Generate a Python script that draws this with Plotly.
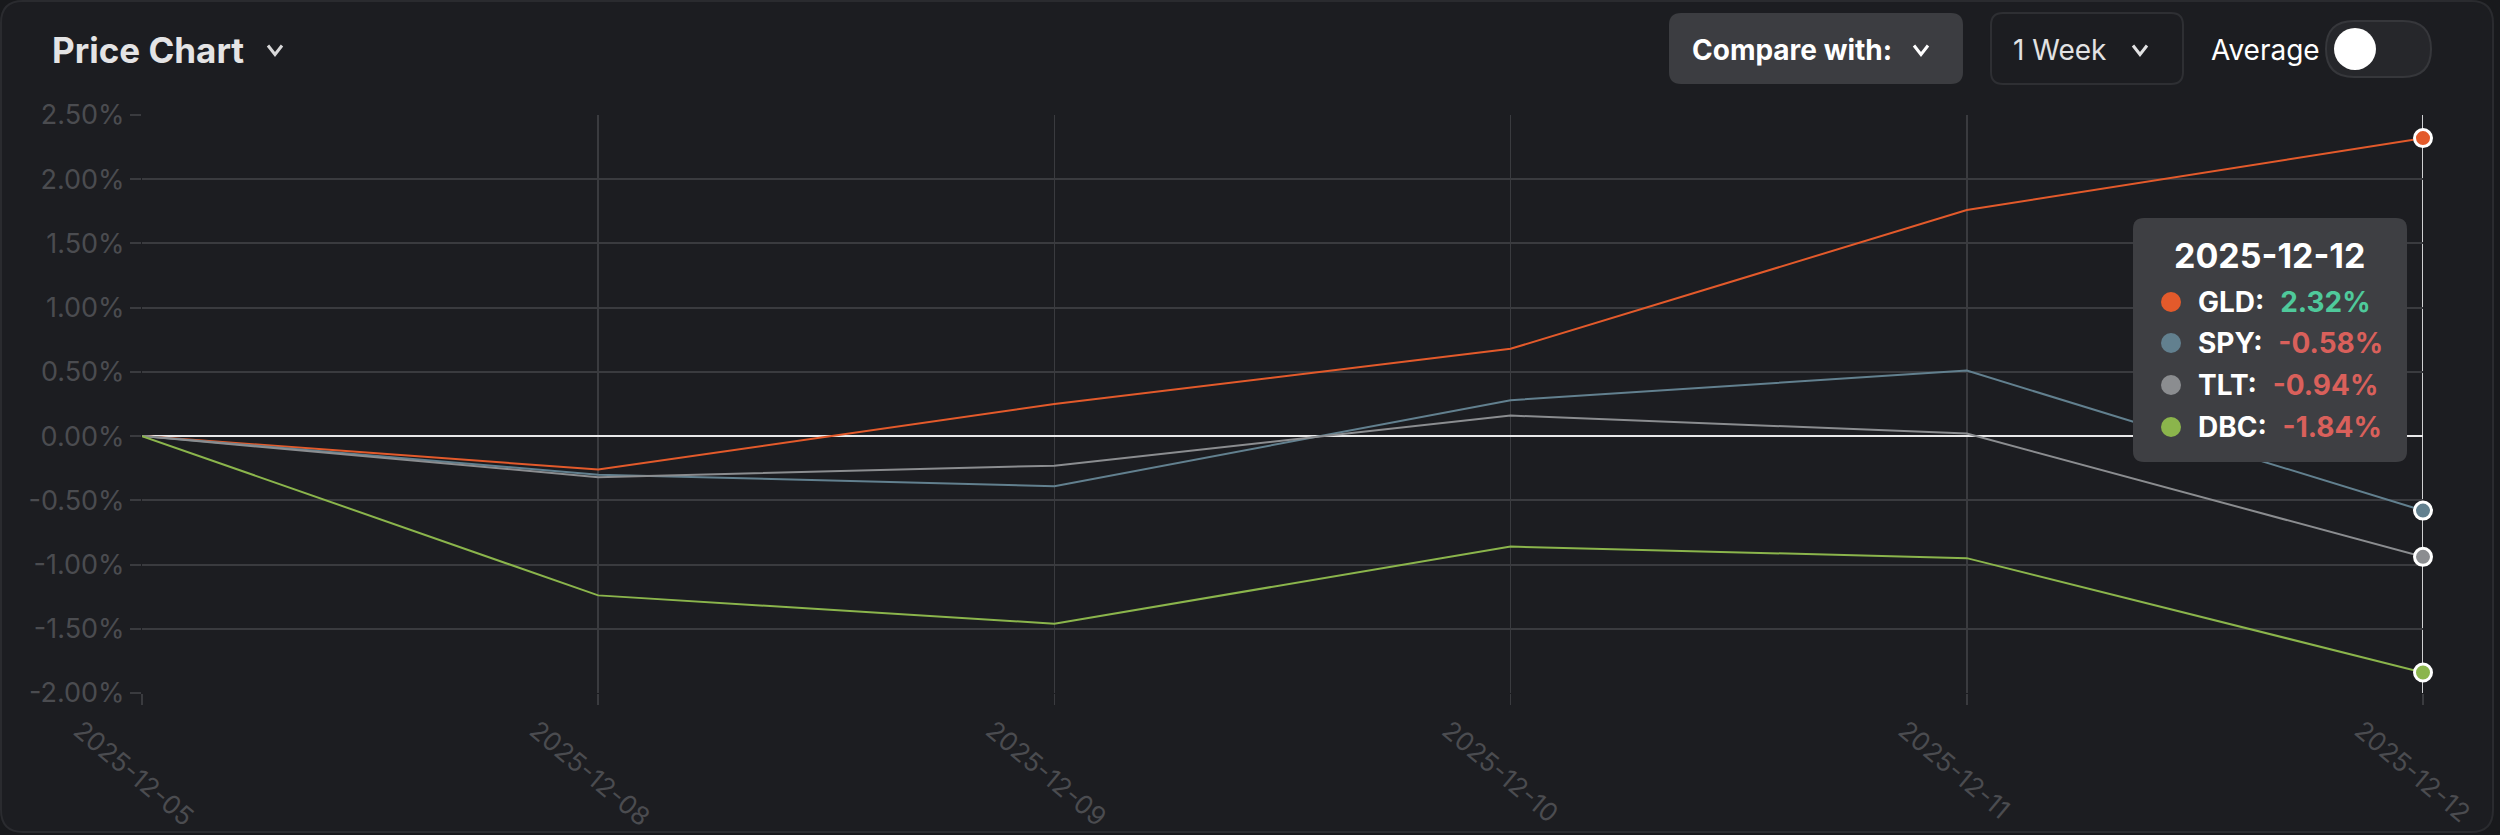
import plotly.graph_objects as go

# ---------------- data ----------------
dates = ["2025-12-05", "2025-12-08", "2025-12-09", "2025-12-10", "2025-12-11", "2025-12-12"]
gld = [0.00, -0.26, 0.25, 0.68, 1.76, 2.32]
spy = [0.00, -0.30, -0.39, 0.28, 0.51, -0.58]
tlt = [0.00, -0.32, -0.23, 0.16, 0.02, -0.94]
dbc = [0.00, -1.24, -1.46, -0.86, -0.95, -1.84]
series_names = ["GLD", "SPY", "TLT", "DBC"]
series_values = [gld, spy, tlt, dbc]
series_colors = ["#e35a2b", "#62808f", "#8b8d90", "#8bb54c"]
y_tick_vals = [-2.0, -1.5, -1.0, -0.5, 0.0, 0.5, 1.0, 1.5, 2.0, 2.5]
y_tick_text = [f"{v:.2f}%" for v in y_tick_vals]

# ---------------- geometry helpers ----------------
W, H = 2500, 835
L, R, T, B = 142, 77, 115, 142
PW, PH = W - L - R, H - T - B
FONT = "Inter, Roboto, sans-serif"
BG_OUT = "#18191c"
CARD = "#1c1d21"
GRID = "#3a3b3f"
TICKFONT = "#4b4c50"


def px(x):
    return (x - L) / PW


def py(y):
    return (H - B - y) / PH


def pt(x, y):
    return f"{px(x):.6f},{py(y):.6f}"


def rrect(x0, y0, x1, y1, r):
    return (f"M {pt(x0 + r, y0)} L {pt(x1 - r, y0)} Q {pt(x1, y0)} {pt(x1, y0 + r)} "
            f"L {pt(x1, y1 - r)} Q {pt(x1, y1)} {pt(x1 - r, y1)} "
            f"L {pt(x0 + r, y1)} Q {pt(x0, y1)} {pt(x0, y1 - r)} "
            f"L {pt(x0, y0 + r)} Q {pt(x0, y0)} {pt(x0 + r, y0)} Z")


def chevron(cx, cy, hw, hh):
    return f"M {pt(cx - hw, cy - hh)} L {pt(cx, cy + hh)} L {pt(cx + hw, cy - hh)}"


fig = go.Figure()

for name, vals, col in zip(series_names, series_values, series_colors):
    fig.add_trace(go.Scatter(x=dates, y=vals, mode="lines", name=name,
                             line=dict(color=col, width=2), hoverinfo="skip"))
for name, vals, col in zip(series_names, series_values, series_colors):
    fig.add_trace(go.Scatter(x=[dates[-1]], y=[vals[-1]], mode="markers", name=name,
                             marker=dict(color=col, size=17, line=dict(color="#ffffff", width=3)),
                             cliponaxis=False, hoverinfo="skip"))

shapes = []
annotations = []

# card
shapes.append(dict(type="path", xref="paper", yref="paper", layer="below",
                   path=rrect(1, 1, 2493, 832, 22), fillcolor=CARD,
                   line=dict(color="#2a2b2f", width=2)))

# hover line at last date
shapes.append(dict(type="line", xref="x", yref="paper", x0=dates[-1], x1=dates[-1], y0=0, y1=1,
                   layer="between", line=dict(color="#cfd0d2", width=2)))

# header: title
annotations.append(dict(text="<b>Price Chart</b>", xref="paper", yref="paper", x=px(50), y=py(50),
                        xanchor="left", yanchor="middle", showarrow=False,
                        font=dict(family=FONT, size=35, color="#e4e4e5")))
shapes.append(dict(type="path", xref="paper", yref="paper", path=chevron(275, 50, 7, 4.5),
                   line=dict(color="#d8d8d9", width=3)))

# Compare with button
shapes.append(dict(type="path", xref="paper", yref="paper", path=rrect(1669, 13, 1963, 84, 12),
                   fillcolor="#3c3d41", line=dict(width=0)))
annotations.append(dict(text="<b>Compare with:</b>", xref="paper", yref="paper", x=px(1690), y=py(50),
                        xanchor="left", yanchor="middle", showarrow=False,
                        font=dict(family=FONT, size=28, color="#ffffff")))
shapes.append(dict(type="path", xref="paper", yref="paper", path=chevron(1921, 50, 7, 4.5),
                   line=dict(color="#ffffff", width=3)))

# 1 Week selector
shapes.append(dict(type="path", xref="paper", yref="paper", path=rrect(1991, 13, 2183, 84, 12),
                   fillcolor=CARD, line=dict(color="#2e2f33", width=2)))
annotations.append(dict(text="1 Week", xref="paper", yref="paper", x=px(2011), y=py(50),
                        xanchor="left", yanchor="middle", showarrow=False,
                        font=dict(family=FONT, size=28, color="#e2e2e3")))
shapes.append(dict(type="path", xref="paper", yref="paper", path=chevron(2140, 50, 7, 4.5),
                   line=dict(color="#e2e2e3", width=3)))

# Average toggle
annotations.append(dict(text="Average", xref="paper", yref="paper", x=px(2209), y=py(50),
                        xanchor="left", yanchor="middle", showarrow=False,
                        font=dict(family=FONT, size=28, color="#ffffff")))
shapes.append(dict(type="path", xref="paper", yref="paper", path=rrect(2326, 21, 2431, 77, 28),
                   fillcolor="#26272b", line=dict(color="#36373b", width=2)))
shapes.append(dict(type="circle", xref="paper", yref="paper",
                   x0=px(2334), x1=px(2376), y0=py(70), y1=py(28),
                   fillcolor="#ffffff", line=dict(width=0)))

# tooltip
shapes.append(dict(type="path", xref="paper", yref="paper", path=rrect(2133, 218, 2407, 462, 11),
                   fillcolor="#3e3f43", line=dict(width=0), layer="above"))
annotations.append(dict(text=f"<b>{dates[-1]}</b>", xref="paper", yref="paper", x=px(2269), y=py(256),
                        xanchor="center", yanchor="middle", showarrow=False,
                        font=dict(family=FONT, size=34, color="#ffffff")))
row_y = [302, 343, 385, 427]
for name, vals, col, ry in zip(series_names, series_values, series_colors, row_y):
    v = vals[-1]
    vcol = "#4fc99b" if v >= 0 else "#d9605b"
    shapes.append(dict(type="circle", xref="paper", yref="paper", layer="above",
                       x0=px(2161), x1=px(2181), y0=py(ry + 10), y1=py(ry - 10),
                       fillcolor=col, line=dict(width=0)))
    annotations.append(dict(text=f"<b>{name}:</b>\u00a0\u00a0<b><span style='color:{vcol}'>{v:.2f}%</span></b>",
                            xref="paper", yref="paper", x=px(2196), y=py(ry),
                            xanchor="left", yanchor="middle", showarrow=False,
                            font=dict(family=FONT, size=28, color="#ffffff")))

fig.update_layout(
    width=W, height=H,
    margin=dict(l=L, r=R, t=T, b=B, pad=0, autoexpand=False),
    paper_bgcolor=BG_OUT, plot_bgcolor="rgba(0,0,0,0)",
    showlegend=False, hovermode=False,
    shapes=shapes, annotations=annotations,
    font=dict(family=FONT),
    xaxis=dict(type="category", range=[0, len(dates) - 1], showgrid=True, gridcolor=GRID, gridwidth=1.5,
               ticks="outside", ticklen=11, tickcolor=GRID, tickwidth=1.5, tickangle=40,
               ticklabelshift=-62, automargin=False,
               tickfont=dict(family=FONT, size=26, color=TICKFONT), zeroline=False, showline=False),
    yaxis=dict(range=[y_tick_vals[0], y_tick_vals[-1]], tickvals=y_tick_vals, ticktext=y_tick_text,
               showgrid=True, gridcolor=GRID, gridwidth=2, automargin=False,
               ticks="outside", ticklen=11, tickcolor=GRID, tickwidth=2,
               tickfont=dict(family=FONT, size=27, color=TICKFONT),
               zeroline=True, zerolinecolor="#e9e9ea", zerolinewidth=2.5, showline=False),
)

fig.write_html("out.html", config={"displayModeBar": False, "staticPlot": True},
               post_script="document.body.style.margin='0';document.body.style.overflow='hidden';")
